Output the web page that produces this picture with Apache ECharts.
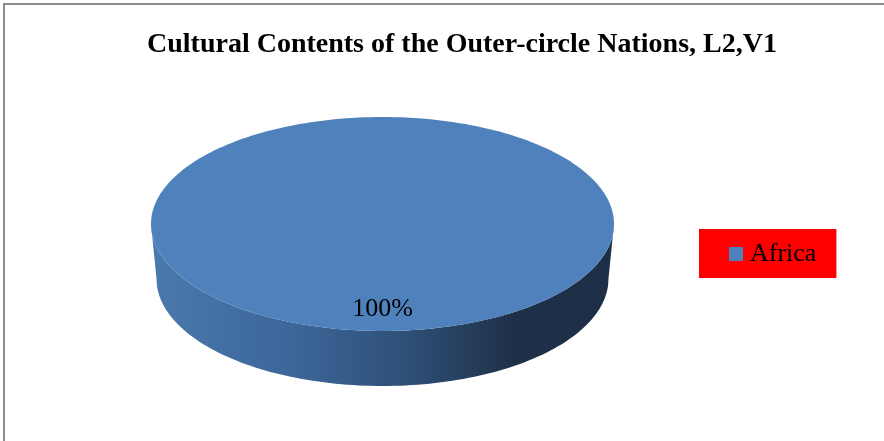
<!DOCTYPE html>
<html>
<head>
<meta charset="utf-8">
<script src="https://cdn.jsdelivr.net/npm/echarts@6/dist/echarts.min.js"></script>
<style>
  html, body { margin: 0; padding: 0; background: #fff; }
  #chart { width: 884px; height: 441px; }
</style>
</head>
<body>
<div id="chart"></div>
<script>
const titleText = 'Cultural Contents of the Outer-circle Nations, L2,V1';
const categories = ['Africa'];
const shares = [100];
const sliceColors = ['#4f81bd'];

const total = shares.reduce((a, b) => a + b, 0);
const starts = [];
let acc = 0;
shares.forEach(v => { starts.push(acc); acc += v; });

// 3D pie geometry in pixels: top ellipse, wall depth, slight perspective at the base
const PIE = { cx: 382.5, cy: 224, rx: 231.5, ry: 107, depth: 55, baseScale: 0.976, labelRatio: 0.8 };

// angle measured clockwise from 12 o'clock
function pt(theta, dy, scale) {
  return [PIE.cx + PIE.rx * scale * Math.sin(theta), PIE.cy + dy - PIE.ry * Math.cos(theta)];
}
function arcPoints(a0, a1, dy, scale) {
  const n = Math.max(2, Math.ceil((a1 - a0) / (Math.PI * 2) * 240));
  const pts = [];
  for (let k = 0; k <= n; k++) pts.push(pt(a0 + (a1 - a0) * k / n, dy, scale));
  return pts;
}

const wallGradient = {
  type: 'linear', x: 0, y: 0, x2: 1, y2: 0,
  colorStops: [
    { offset: 0, color: '#4a79ae' },
    { offset: 0.3, color: '#3d6699' },
    { offset: 0.55, color: '#2e5078' },
    { offset: 0.78, color: '#1f3149' },
    { offset: 1, color: '#1d2f47' }
  ]
};

function renderSlice(idx) {
  return function (params, api) {
    const v = api.value(0);
    const a0 = starts[idx] / total * 2 * Math.PI;
    const a1 = (starts[idx] + v) / total * 2 * Math.PI;
    const children = [];

    // visible outer wall: the part of the rim facing the viewer
    const f0 = Math.max(a0, Math.PI / 2);
    const f1 = Math.min(a1, 1.5 * Math.PI);
    if (f1 > f0) {
      const top = arcPoints(f0, f1, 0, 1);
      const bottom = arcPoints(f0, f1, PIE.depth, PIE.baseScale).reverse();
      children.push({
        type: 'polygon',
        shape: { points: top.concat(bottom) },
        style: { fill: wallGradient }
      });
    }

    // top face
    const full = (a1 - a0) >= 2 * Math.PI - 1e-9;
    const topPts = arcPoints(a0, a1, 0, 1);
    if (!full) topPts.unshift([PIE.cx, PIE.cy]);
    children.push({
      type: 'polygon',
      shape: { points: topPts },
      style: { fill: api.visual('color') }
    });

    // percentage label
    const am = (a0 + a1) / 2;
    children.push({
      type: 'text',
      x: PIE.cx + PIE.labelRatio * PIE.rx * Math.sin(am),
      y: PIE.cy - PIE.labelRatio * PIE.ry * Math.cos(am),
      style: {
        text: Math.round(v / total * 100) + '%',
        fill: '#000',
        font: '26px "Liberation Serif"',
        align: 'center',
        verticalAlign: 'middle'
      }
    });
    return { type: 'group', children };
  };
}

const chart = echarts.init(document.getElementById('chart'));
chart.setOption({
  animation: false,
  backgroundColor: '#fff',
  title: {
    text: titleText,
    left: 142,
    top: 26,
    textStyle: { fontFamily: 'Liberation Serif', fontWeight: 'bold', fontSize: 28, color: '#000' }
  },
  legend: {
    data: categories,
    left: 699,
    top: 229,
    orient: 'vertical',
    icon: 'rect',
    itemWidth: 14,
    itemHeight: 14,
    backgroundColor: '#ff0000',
    padding: [12, 20, 11, 30],
    selectedMode: false,
    textStyle: { fontFamily: 'Liberation Serif', fontSize: 26, color: '#000', padding: [0, 0, 0, 2] }
  },
  graphic: [{
    type: 'rect',
    shape: { x: 4, y: 4, width: 1000, height: 1000 },
    style: { fill: 'none', stroke: '#8c8c8c', lineWidth: 2 },
    silent: true
  }],
  series: categories.map((name, i) => ({
    type: 'custom',
    name: name,
    coordinateSystem: 'none',
    itemStyle: { color: sliceColors[i] },
    data: [shares[i]],
    renderItem: renderSlice(i)
  }))
});
</script>
</body>
</html>
